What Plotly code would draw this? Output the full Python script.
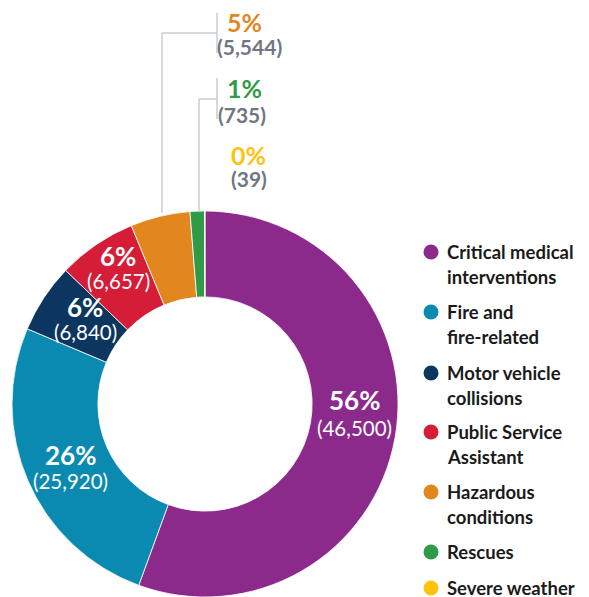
import plotly.graph_objects as go

# ---- data ----
categories = ["Critical medical interventions", "Fire and fire-related", "Motor vehicle collisions",
              "Public Service Assistant", "Hazardous conditions", "Rescues", "Severe weather"]
legend_lines = [["Critical medical", "interventions"], ["Fire and", "fire-related"],
                ["Motor vehicle", "collisions"], ["Public Service", "Assistant"],
                ["Hazardous", "conditions"], ["Rescues"], ["Severe weather"]]
share_pct = [55.6, 25.8, 5.8, 6.6, 5.0, 1.2, 0.04]   # slice shares
pct_labels = ["56%", "26%", "6%", "6%", "5%", "1%", "0%"]
count_labels = ["(46,500)", "(25,920)", "(6,840)", "(6,657)", "(5,544)", "(735)", "(39)"]
colors = ["#8c2a8c", "#0a89b1", "#0c355f", "#d51d38", "#e2861e", "#2f9a47", "#fec20f"]

OFF = 8  # page body margin
W, H = 589 - OFF, 597 - OFF
def px(x): return (x - OFF) / W
def py(y): return 1 - (y - OFF) / H

cx, cy, R = 205, 406, 195
fig = go.Figure(go.Pie(
    labels=categories, values=share_pct, sort=False, direction="clockwise", rotation=0,
    hole=0.555, textinfo="none", hoverinfo="label+percent", showlegend=False,
    marker=dict(colors=colors, line=dict(color="white", width=0.8)),
    domain=dict(x=[px(cx - R), px(cx + R)], y=[max(0, py(cy + R)), py(cy - R)]),
))

ann = []
FONT = "Lato"
# labels inside slices: (index, x, y_pct, y_count)
inside = [(0, 354, 400, 428), (1, 70, 455, 481), (2, 85, 307, 332), (3, 118, 256, 281)]
for i, x, y1, y2 in inside:
    ann.append(dict(x=px(x), y=py(y1), text="<b>" + pct_labels[i] + "</b>", showarrow=False,
                    xanchor="center", yanchor="middle", font=dict(family=FONT, size=26, color="white")))
    ann.append(dict(x=px(x), y=py(y2), text=count_labels[i], showarrow=False,
                    xanchor="center", yanchor="middle", font=dict(family=FONT, size=20.5, color="white")))

# labels outside (top)
outside = [(4, 225, 22, 215, 47), (5, 225, 88, 216, 114), (6, 229, 155, 229, 179)]
for i, x1, y1, x2, y2 in outside:
    ann.append(dict(x=px(x1), y=py(y1), text="<b>" + pct_labels[i] + "</b>", showarrow=False,
                    xanchor="left", yanchor="middle", font=dict(family=FONT, size=25, color=colors[i])))
    ann.append(dict(x=px(x2), y=py(y2), text="<b>" + count_labels[i] + "</b>", showarrow=False,
                    xanchor="left", yanchor="middle", font=dict(family=FONT, size=21, color="#6e7782")))

shapes = []
lc = dict(color="#c9ced5", width=1.5)
# leader for 5%
shapes += [dict(type="line", xref="paper", yref="paper", x0=px(162), y0=py(213), x1=px(162), y1=py(33), line=lc),
           dict(type="line", xref="paper", yref="paper", x0=px(162), y0=py(33), x1=px(217), y1=py(33), line=lc),
           dict(type="line", xref="paper", yref="paper", x0=px(217), y0=py(13), x1=px(217), y1=py(53), line=lc)]
# leader for 1%
shapes += [dict(type="line", xref="paper", yref="paper", x0=px(199), y0=py(211), x1=px(199), y1=py(99), line=lc),
           dict(type="line", xref="paper", yref="paper", x0=px(199), y0=py(99), x1=px(217), y1=py(99), line=lc),
           dict(type="line", xref="paper", yref="paper", x0=px(217), y0=py(78), x1=px(217), y1=py(119), line=lc)]

# custom legend
leg_y = [252, 312, 373, 432, 492, 552, 588]
for i, lines in enumerate(legend_lines):
    y0 = leg_y[i]
    r = 7.5
    shapes.append(dict(type="circle", xref="paper", yref="paper", x0=px(431 - r), x1=px(431 + r),
                       y0=py(y0 + r), y1=py(y0 - r), fillcolor=colors[i], line=dict(width=0)))
    for k, t in enumerate(lines):
        ann.append(dict(x=px(445), y=py(y0 + 24.5 * k), text="<b>" + t + "</b>", showarrow=False,
                        xanchor="left", yanchor="middle",
                        font=dict(family=FONT, size=18.5, color="#1a1a1a")))

fig.update_layout(width=W, height=H, autosize=False, margin=dict(l=0, r=0, t=0, b=0),
                  paper_bgcolor="white", plot_bgcolor="white",
                  annotations=ann, shapes=shapes)
fig.write_html("out.html")
